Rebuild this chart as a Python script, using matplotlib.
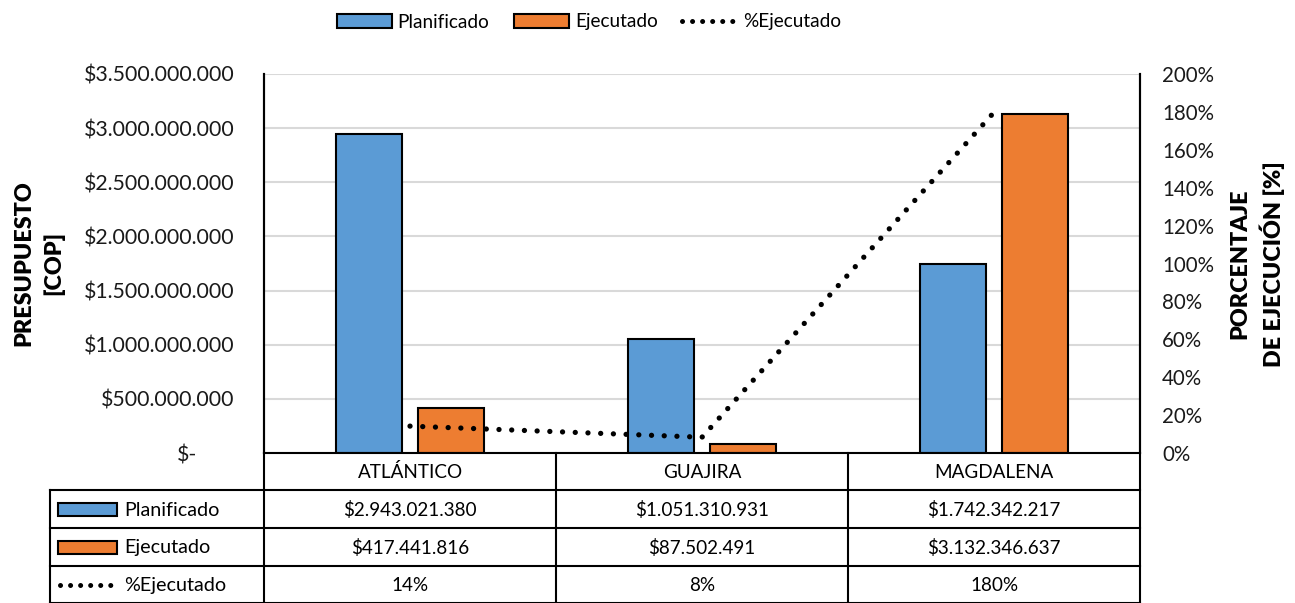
import numpy as np
import matplotlib.pyplot as plt
from matplotlib.ticker import FuncFormatter, MultipleLocator
from matplotlib.patches import Rectangle
from matplotlib.lines import Line2D
from matplotlib.transforms import ScaledTranslation

plt.rcParams['font.family'] = ['Lato', 'DejaVu Sans']

# datos
departamentos = ['ATLÁNTICO', 'GUAJIRA', 'MAGDALENA']
planificado = [2943021380, 1051310931, 1742342217]
ejecutado = [417441816, 87502491, 3132346637]
series = ['Planificado', 'Ejecutado', '%Ejecutado']

AZUL = '#5B9BD5'
NARANJA = '#ED7D31'
GRIS = '#D9D9D9'

pct = [e / p for e, p in zip(ejecutado, planificado)]


def pesos(v):
    return '$' + f'{v:,}'.replace(',', '.')


W, H = 1295, 603
fig = plt.figure(figsize=(W / 100, H / 100), dpi=100)

# area de grafico en pixeles
x0, x1, y0, y1 = 264, 1140, 453, 74
ax = fig.add_axes([x0 / W, 1 - y0 / H, (x1 - x0) / W, (y0 - y1) / H])
ax2 = ax.twinx()

x = np.arange(len(departamentos))
ancho = 0.226
off = 0.142
ax.bar(x - off, planificado, ancho, color=AZUL, edgecolor='black', linewidth=1.5, zorder=3)
ax.bar(x + off, ejecutado, ancho, color=NARANJA, edgecolor='black', linewidth=1.5, zorder=3)
ax2.plot(x, pct, color='black', lw=3.8, linestyle=(0, (0.01, 2.4)),
         dash_capstyle='round', zorder=4)

ax.set_xlim(-0.5, len(departamentos) - 0.5)
ax.set_ylim(0, 3.5e9)
ax.yaxis.set_major_locator(MultipleLocator(5e8))
ax2.set_ylim(0, 2.0)
ax2.yaxis.set_major_locator(MultipleLocator(0.2))


def fmt_pesos(v, pos):
    if v == 0:
        return '$-'
    return pesos(int(round(v)))


ax.yaxis.set_major_formatter(FuncFormatter(fmt_pesos))
ax2.yaxis.set_major_formatter(FuncFormatter(lambda v, pos: f'{v * 100:.0f}%'))
ax.grid(axis='y', color=GRIS, lw=1.5, zorder=0)
ax.set_axisbelow(True)
ax.set_xticks([])
ax.tick_params(axis='y', length=0, pad=21, labelsize=15.3, colors='#1a1a1a')
ax2.tick_params(axis='y', length=0, pad=16, labelsize=14.8, colors='#1a1a1a')
for a in (ax, ax2):
    for s in ('top', 'bottom'):
        a.spines[s].set_visible(False)
    a.spines['left'].set_linewidth(1.5)
    a.spines['right'].set_linewidth(1.5)

fig.canvas.draw()
for lab in ax.get_yticklabels():
    if lab.get_text() == '$-':
        lab.set_transform(lab.get_transform() + ScaledTranslation(-0.38, 0, fig.dpi_scale_trans))

fig.text(39 / W, 1 - 263 / H, 'PRESUPUESTO\n[COP]', rotation=90, ha='center', va='center',
         multialignment='center', fontsize=16.8, fontweight='heavy', linespacing=1.45)
fig.text(1257 / W, 1 - 264 / H, 'PORCENTAJE\nDE EJECUCIÓN [%]', rotation=90, ha='center',
         va='center', multialignment='center', fontsize=16.8, fontweight='heavy', linespacing=1.45)

# tabla de datos
tb = fig.add_axes([0, 0, 1, 1])
tb.set_xlim(0, W)
tb.set_ylim(H, 0)
tb.axis('off')
lw = 1.5
filas = [453, 490, 528, 566, 603]
col_w = (x1 - x0) / len(departamentos)
cols = [x0 + i * col_w for i in range(len(departamentos) + 1)]
izq = 50
tb.plot([x0, x1], [filas[0], filas[0]], color='black', lw=lw)
for yy in filas[1:]:
    tb.plot([izq, x1], [yy, yy], color='black', lw=lw)
for xx in cols:
    tb.plot([xx, xx], [filas[0], filas[-1]], color='black', lw=lw)
tb.plot([izq, izq], [filas[1], filas[-1]], color='black', lw=lw)

fs_t = 13.6
for i, d in enumerate(departamentos):
    xc = (cols[i] + cols[i + 1]) / 2
    tb.text(xc, (filas[0] + filas[1]) / 2 + 1, d, ha='center', va='center', fontsize=fs_t)
    tb.text(xc, (filas[1] + filas[2]) / 2 + 1, pesos(planificado[i]), ha='center', va='center', fontsize=fs_t)
    tb.text(xc, (filas[2] + filas[3]) / 2 + 1, pesos(ejecutado[i]), ha='center', va='center', fontsize=fs_t)
    tb.text(xc, (filas[3] + filas[4]) / 2 + 1, f'{pct[i] * 100:.0f}%', ha='center', va='center', fontsize=fs_t)

for k, nombre in enumerate(series):
    yc = (filas[k + 1] + filas[k + 2]) / 2
    if k < 2:
        tb.add_patch(Rectangle((58, yc - 6.5), 59, 13, facecolor=[AZUL, NARANJA][k],
                               edgecolor='black', lw=1.5))
    else:
        tb.plot([60, 116], [yc, yc], color='black', lw=3.6, linestyle=(0, (0.01, 2.0)),
                dash_capstyle='round')
    tb.text(124, yc + 1, nombre, ha='left', va='center', fontsize=14.2)

# leyenda superior
handles = [Rectangle((0, 0), 1, 1, facecolor=AZUL, edgecolor='black', lw=1.5),
           Rectangle((0, 0), 1, 1, facecolor=NARANJA, edgecolor='black', lw=1.5),
           Line2D([0], [0], color='black', lw=3.6, linestyle=(0, (0.01, 2.0)), dash_capstyle='round')]
fig.legend(handles, series, loc='center', bbox_to_anchor=(589 / W, 1 - 22 / H), ncol=3,
           frameon=False, fontsize=13.7, handlelength=2.9, handleheight=0.7,
           handletextpad=0.3, columnspacing=1.3)

fig.savefig('out.png', dpi=100)
